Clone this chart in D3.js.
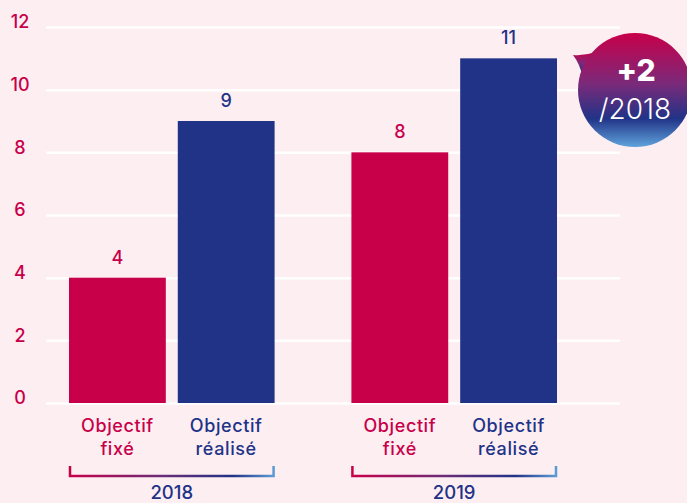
<!DOCTYPE html>
<html>
<head>
<meta charset="utf-8">
<script src="https://cdn.jsdelivr.net/npm/d3@7"></script>
<style>
  body { margin: 0; background: #fdeef1; }
  svg { display: block; font-family: Inter, "Open Sans", sans-serif; font-variant-ligatures: none; }
</style>
</head>
<body>
<svg id="chart" width="687" height="503"></svg>
<script>
/* DATA */
const years = ["2018", "2019"];
const series = ["fixe", "realise"];
const seriesLabels = [["Objectif", "fixé"], ["Objectif", "réalisé"]];
const fixe = [4, 8];
const realise = [9, 11];
const yTicks = [0, 2, 4, 6, 8, 10, 12];
const badgeTop = "+2";
const badgeBottom = "/2018";

const crimson = "#c8004a", navy = "#213387";
const colors = [crimson, navy];

const svg = d3.select('#chart');

const x0 = d3.scaleBand().domain(years).range([69, 557]).paddingInner(0.272);
const x1 = d3.scaleBand().domain(series).range([0, x0.bandwidth()]).paddingInner(0.11);
const y = d3.scaleLinear().domain([0, 12]).range([403, 27]);

/* GRID + Y AXIS */
const yAxis = d3.axisLeft(y).tickValues(yTicks).tickSize(-574).tickPadding(14);
const gy = svg.append('g').attr('transform', 'translate(46,0)').call(yAxis);
gy.select('.domain').remove();
gy.selectAll('.tick line').attr('stroke', '#fff').attr('stroke-width', 2.5);
gy.selectAll('.tick text')
  .attr('fill', crimson).attr('font-size', 18).attr('font-family', 'Inter, sans-serif')
  .attr('font-weight', 500)
  .attr('text-anchor', 'middle').attr('x', -26).attr('dy', '0.05em');

/* BARS */
const rows = years.map((yr, i) => ({year: yr, vals: [fixe[i], realise[i]]}));
const groups = svg.selectAll('g.grp').data(rows).enter().append('g')
  .attr('class', 'grp')
  .attr('transform', d => 'translate(' + x0(d.year) + ',0)');

groups.selectAll('rect').data(d => d.vals.map((v, k) => ({k: k, v: v})))
  .enter().append('rect')
  .attr('x', d => x1(series[d.k]))
  .attr('y', d => y(d.v))
  .attr('width', x1.bandwidth())
  .attr('height', d => y(0) - y(d.v))
  .attr('fill', d => colors[d.k]);

groups.selectAll('text.val').data(d => d.vals.map((v, k) => ({k: k, v: v})))
  .enter().append('text')
  .attr('class', 'val')
  .attr('x', d => x1(series[d.k]) + x1.bandwidth() / 2)
  .attr('y', d => y(d.v) - 14)
  .attr('text-anchor', 'middle')
  .attr('font-size', 18).attr('font-weight', 500)
  .attr('fill', d => colors[d.k])
  .text(d => d.v);

/* CATEGORY LABELS */
series.forEach((s, k) => {
  const cx = x1(s) + x1.bandwidth() / 2;
  const t = groups.append('text')
    .attr('text-anchor', 'middle')
    .attr('font-size', 18).attr('font-weight', 500).attr('letter-spacing', 0.6)
    .attr('fill', colors[k]);
  t.append('tspan').attr('x', cx).attr('y', 432).text(seriesLabels[k][0]);
  t.append('tspan').attr('x', cx).attr('y', 455).text(seriesLabels[k][1]);
});

/* BRACKETS */
const defs = svg.append('defs');
const lg = defs.append('linearGradient').attr('id', 'brk').attr('x1', 0).attr('x2', 1).attr('y1', 0).attr('y2', 0);
[[0, crimson], [0.45, '#6a2c78'], [0.8, navy], [1, '#5b9bd5']].forEach(s =>
  lg.append('stop').attr('offset', s[0]).attr('stop-color', s[1]));

groups.append('path')
  .attr('d', 'M1,466 V476 H' + (x0.bandwidth() - 1) + ' V466')
  .attr('fill', 'none').attr('stroke', 'url(#brk)').attr('stroke-width', 2.5);

groups.append('text')
  .attr('x', x0.bandwidth() / 2).attr('y', 499)
  .attr('text-anchor', 'middle').attr('font-size', 18.5).attr('font-weight', 500)
  .attr('fill', navy)
  .text(d => d.year);

/* BADGE */
const bg = defs.append('linearGradient').attr('id', 'badge').attr('x1', 0).attr('x2', 0).attr('y1', 0).attr('y2', 1);
[[0, crimson], [0.45, '#7a2a7a'], [0.75, navy], [1, '#5fa3dc']].forEach(s =>
  bg.append('stop').attr('offset', s[0]).attr('stop-color', s[1]));

const badge = svg.append('g');
badge.append('path')
  .attr('d', 'M596,52 Q584,56 573,55 Q580,64 583,78 Z')
  .attr('fill', 'url(#badge)');
badge.append('circle').attr('cx', 635).attr('cy', 90).attr('r', 57).attr('fill', 'url(#badge)');
badge.append('text').attr('x', 636).attr('y', 81).attr('text-anchor', 'middle')
  .attr('font-size', 30).attr('font-weight', 800).attr('fill', '#fff').text(badgeTop);
badge.append('text').attr('x', 635).attr('y', 119).attr('text-anchor', 'middle')
  .attr('font-size', 28).attr('font-weight', 300).attr('fill', '#fff').text(badgeBottom);
</script>
</body>
</html>
